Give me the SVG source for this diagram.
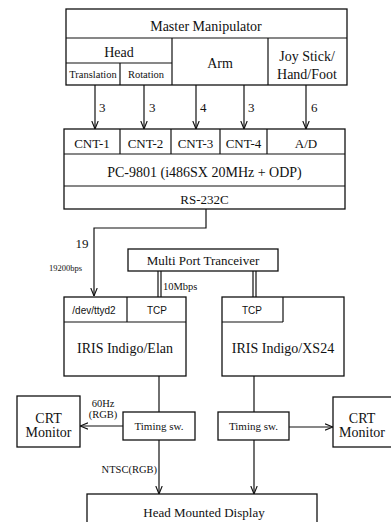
<svg xmlns="http://www.w3.org/2000/svg" width="391" height="522" viewBox="0 0 391 522">
<style>
.b{fill:none;stroke:#111;stroke-width:1.3}
.l{fill:none;stroke:#111;stroke-width:1.2}
text{font-family:"Liberation Serif","Times New Roman",serif;fill:#111;text-anchor:middle;font-size:14px}
.s13{font-size:13px}
.s11{font-size:11px}
.s10{font-size:10.5px}
.s9{font-size:8.5px}
.sans{font-family:"Liberation Sans",Arial,sans-serif;font-size:10px}
.st{text-anchor:start}
.en{text-anchor:end}
</style>
<defs>
<marker id="ah" viewBox="0 0 10 10" refX="10" refY="5" markerWidth="8" markerHeight="8" orient="auto" markerUnits="userSpaceOnUse">
<path d="M0,1 L10,5 L0,9" fill="none" stroke="#111" stroke-width="1.4"/>
</marker>
</defs>
<rect width="391" height="522" fill="#fff"/>
<g id="master">
<rect class="b" x="66" y="9" width="281" height="76"/>
<path class="l" d="M66,38H347M66,63H172M172,38V85M268,38V85M120,63V85"/>
<text x="206" y="31">Master Manipulator</text>
<text x="119" y="57">Head</text>
<text class="s10" x="93" y="78">Translation</text>
<text class="s10" x="146" y="78">Rotation</text>
<text x="220" y="68">Arm</text>
<text x="307" y="61">Joy Stick/</text>
<text x="307" y="79">Hand/Foot</text>
</g>
<g id="pc">
<rect class="b" x="64" y="129" width="281" height="80"/>
<path class="l" d="M64,154H345M64,186H345M120,129V154M171,129V154M220,129V154M267,129V154"/>
<text class="s13" x="92" y="148">CNT-1</text>
<text class="s13" x="145.5" y="148">CNT-2</text>
<text class="s13" x="195.5" y="148">CNT-3</text>
<text class="s13" x="243.5" y="148">CNT-4</text>
<text class="s13" x="306" y="148">A/D</text>
<text x="204.5" y="177">PC-9801 (i486SX 20MHz + ODP)</text>
<text class="s13" x="204.5" y="204">RS-232C</text>
</g>
<g id="mpt">
<rect class="b" x="128" y="249" width="150" height="22"/>
<text class="s13" x="203" y="265">Multi Port Tranceiver</text>
</g>
<g id="iris-elan">
<rect class="b" x="64" y="297" width="122" height="79"/>
<path class="l" d="M64,322H186M127,297V322"/>
<text class="sans" x="94" y="314">/dev/ttyd2</text>
<text class="sans" x="157" y="314">TCP</text>
<text x="125" y="353">IRIS Indigo/Elan</text>
</g>
<g id="iris-xs24">
<rect class="b" x="222" y="297" width="122" height="79"/>
<path class="l" d="M222,322H283M283,297V322"/>
<text class="sans" x="252" y="314">TCP</text>
<text x="283" y="353">IRIS Indigo/XS24</text>
</g>
<g id="timing-left">
<rect class="b" x="123" y="412" width="72" height="28"/>
<text class="s11" x="159" y="430">Timing sw.</text>
</g>
<g id="timing-right">
<rect class="b" x="218" y="412" width="71" height="28"/>
<text class="s11" x="253.5" y="430">Timing sw.</text>
</g>
<g id="crt-left">
<rect class="b" x="17" y="396" width="63" height="51"/>
<text x="48.5" y="423">CRT</text>
<text x="48.5" y="437">Monitor</text>
</g>
<g id="crt-right">
<rect class="b" x="333" y="397" width="64" height="50"/>
<text x="362" y="423">CRT</text>
<text x="362" y="437">Monitor</text>
</g>
<g id="hmd">
<rect class="b" x="87" y="494" width="230" height="40"/>
<text class="s13" x="204" y="517">Head Mounted Display</text>
</g>
<g id="connectors">
<path class="l" d="M95,85V129" marker-end="url(#ah)"/>
<path class="l" d="M144,85V129" marker-end="url(#ah)"/>
<path class="l" d="M196,85V129" marker-end="url(#ah)"/>
<path class="l" d="M244,85V129" marker-end="url(#ah)"/>
<path class="l" d="M306,85V129" marker-end="url(#ah)"/>
<text class="s13 st" x="99" y="112">3</text>
<text class="s13 st" x="149" y="112">3</text>
<text class="s13 st" x="200" y="112">4</text>
<text class="s13 st" x="248" y="112">3</text>
<text class="s13 st" x="311" y="112">6</text>
<path class="l" d="M206,209V228H94V296" marker-end="url(#ah)"/>
<text class="s13" x="82" y="248">19</text>
<text class="s9 en" x="82" y="271">19200bps</text>
<path class="l" d="M158,271V297M161,271V297M253,271V297M256,271V297"/>
<text class="s10 st" x="163" y="290">10Mbps</text>
<path class="l" d="M159,376V412M254,376V412"/>
<path class="l" d="M123,426H80" marker-end="url(#ah)"/>
<path class="l" d="M289,427H333" marker-end="url(#ah)"/>
<text class="s10" x="103" y="407">60Hz</text>
<text class="s10" x="103" y="418">(RGB)</text>
<path class="l" d="M159,440V494" marker-end="url(#ah)"/>
<path class="l" d="M254,440V494" marker-end="url(#ah)"/>
<text class="s10 en" x="157" y="473">NTSC(RGB)</text>
</g>
</svg>
